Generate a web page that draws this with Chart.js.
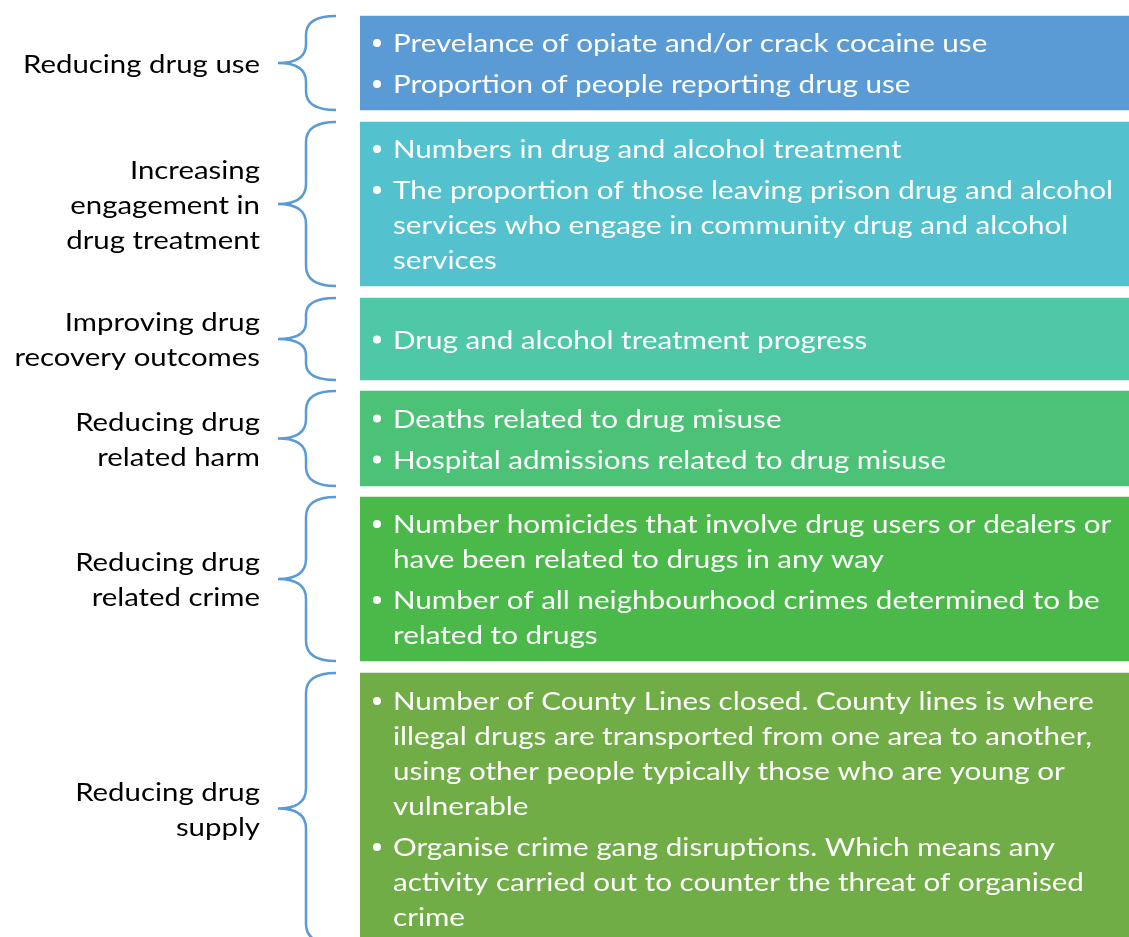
<!DOCTYPE html>
<html>
<head>
<meta charset="utf-8">
<script src="https://cdn.jsdelivr.net/npm/chart.js@4.4.1/dist/chart.umd.min.js"></script>
<style>
  html, body { margin: 0; padding: 0; background: #fff; }
  #wrap { width: 1129px; height: 937px; }
</style>
</head>
<body>
<div id="wrap"><canvas id="myChart" width="1129" height="937"></canvas></div>
<script>
// themes shown on the left, one per box
var themeLabels = [
  ['Reducing drug use'],
  ['Increasing', 'engagement in', 'drug treatment'],
  ['Improving drug', 'recovery outcomes'],
  ['Reducing drug', 'related harm'],
  ['Reducing drug', 'related crime'],
  ['Reducing drug', 'supply']
];

// bullet points in each box (each bullet = its wrapped lines)
var indicators = [
  [['Prevelance of opiate and/or crack cocaine use'],
   ['Proportion of people reporting drug use']],
  [['Numbers in drug and alcohol treatment'],
   ['The proportion of those leaving prison drug and alcohol',
    'services who engage in community drug and alcohol',
    'services']],
  [['Drug and alcohol treatment progress']],
  [['Deaths related to drug misuse'],
   ['Hospital admissions related to drug misuse']],
  [['Number homicides that involve drug users or dealers or',
    'have been related to drugs in any way'],
   ['Number of all neighbourhood crimes determined to be',
    'related to drugs']],
  [['Number of County Lines closed. County lines is where',
    'illegal drugs are transported from one area to another,',
    'using other people typically those who are young or',
    'vulnerable'],
   ['Organise crime gang disruptions. Which means any',
    'activity carried out to counter the threat of organised',
    'crime']]
];

// vertical extent of each box (top, bottom)
var boxSpans = [[16, 110], [122, 286], [298, 380], [391, 486], [497, 661], [673, 944]];

var boxColors = ['#5b9bd5', '#54c1ce', '#4fc8a7', '#4cc277', '#4ab94a', '#70ad47'];

var FONT = '25px Lato';
var LINE = 35;
var BULLET_GAP = 6;

function squeezedText(c, text, x, y, sx) {
  c.save();
  c.translate(x, y);
  c.scale(sx, 1);
  c.fillText(text, 0, 0);
  c.restore();
}

var diagramPlugin = {
  id: 'diagram',
  afterDatasetsDraw: function(chart) {
    var c = chart.ctx;
    var yScale = chart.scales.y;
    var left = chart.chartArea.left;
    c.save();
    c.font = FONT;
    var sx = 720 / c.measureText('The proportion of those leaving prison drug and alcohol').width;
    var sxLabel = 237 / c.measureText('Reducing drug use').width;

    for (var i = 0; i < boxSpans.length; i++) {
      var top = yScale.getPixelForValue(boxSpans[i][0]);
      var bottom = yScale.getPixelForValue(boxSpans[i][1]);
      var mid = (top + bottom) / 2;

      // bullets
      var bullets = indicators[i];
      var nLines = 0;
      bullets.forEach(function(b) { nLines += b.length; });
      var block = (nLines - 1) * LINE + (bullets.length - 1) * BULLET_GAP;
      var y = mid - block / 2;
      c.fillStyle = '#ffffff';
      c.textAlign = 'left';
      c.textBaseline = 'alphabetic';
      bullets.forEach(function(b, bi) {
        if (bi > 0) y += BULLET_GAP;
        c.beginPath();
        c.arc(left + 17, y + 0.5, 4, 0, Math.PI * 2);
        c.fill();
        b.forEach(function(line, li) {
          if (li > 0) y += LINE;
          squeezedText(c, line, left + 33, y + 9.5, sx);
        });
        y += LINE;
      });

      // theme label
      var lbl = themeLabels[i];
      var ly = mid - (lbl.length - 1) * LINE / 2;
      c.fillStyle = '#000000';
      lbl.forEach(function(line, li) {
        var w = c.measureText(line).width * sxLabel;
        squeezedText(c, line, left - 100 - w, ly + li * LINE + 9.5, sxLabel);
      });

      // brace
      var xEnd = left - 24, xSpine = left - 54, xTip = left - 82;
      var r = Math.min(20, (bottom - top) / 5);
      c.strokeStyle = '#5b9bd5';
      c.lineWidth = 2.5;
      c.beginPath();
      c.moveTo(xEnd, top);
      c.quadraticCurveTo(xSpine, top, xSpine, top + r);
      c.lineTo(xSpine, mid - r);
      c.quadraticCurveTo(xSpine, mid, xTip, mid);
      c.quadraticCurveTo(xSpine, mid, xSpine, mid + r);
      c.lineTo(xSpine, bottom - r);
      c.quadraticCurveTo(xSpine, bottom, xEnd, bottom);
      c.stroke();
    }
    c.restore();
  }
};

var ctx = document.getElementById('myChart').getContext('2d');
var chart = new Chart(ctx, {
  type: 'bar',
  data: {
    labels: ['indicators'],
    datasets: themeLabels.map(function(t, i) {
      return {
        label: t.join(' '),
        data: [boxSpans[i]],
        backgroundColor: boxColors[i],
        borderWidth: 0,
        grouped: false,
        categoryPercentage: 1,
        barPercentage: 1
      };
    })
  },
  options: {
    responsive: false,
    animation: false,
    layout: { padding: { left: 360, right: 0, top: 0, bottom: 0 } },
    scales: {
      x: { display: false },
      y: { display: false, min: 0, max: 937, reverse: true }
    },
    plugins: {
      legend: { display: false },
      tooltip: { enabled: false }
    }
  },
  plugins: [diagramPlugin]
});
</script>
</body>
</html>
